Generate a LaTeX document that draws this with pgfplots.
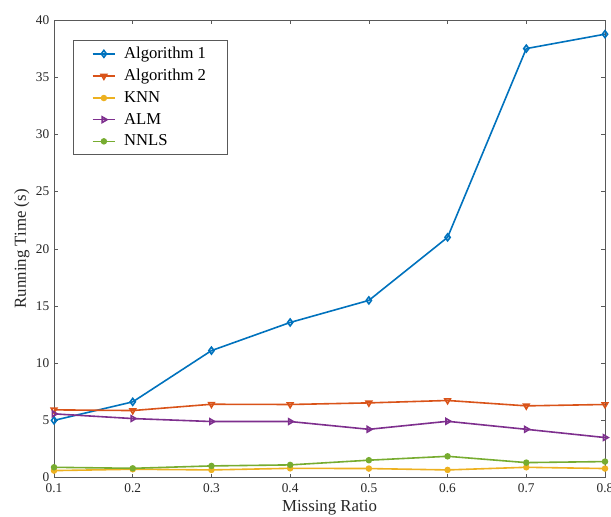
\documentclass[border=0pt]{standalone}
\usepackage{fontspec}
\setmainfont{Liberation Serif}
\usepackage{pgfplots}
\pgfplotsset{compat=1.18}
\usetikzlibrary{calc}
\definecolor{mblue}{RGB}{0,114,189}
\definecolor{morange}{RGB}{217,83,25}
\definecolor{myellow}{RGB}{237,177,32}
\definecolor{mpurple}{RGB}{126,47,142}
\definecolor{mgreen}{RGB}{119,172,48}
\definecolor{axgray}{RGB}{38,38,38}

\begin{document}
\begin{tikzpicture}
\begin{axis}[
  scale only axis, width=413pt, height=343pt,
  xmin=0.1, xmax=0.8, ymin=0, ymax=40,
  xtick={0.1,0.2,...,0.8}, ytick={0,5,...,40},
  xticklabels={0.1,0.2,0.3,0.4,0.5,0.6,0.7,0.8},
  /pgf/number format/assume math mode=true,
  tick label style={font=\fontsize{10}{12}\selectfont, text=axgray},
  xticklabel style={yshift=-1pt},
  axis line style={draw=gray!70!black, line width=0.4pt},
  tick style={draw=gray!70!black, line width=0.4pt},
  major tick length=3pt, tick align=inside,
  xlabel={Missing Ratio}, ylabel={Running Time (s)},
  label style={font=\fontsize{12.6}{14}\selectfont, text=axgray},
  xlabel style={yshift=1pt},
  ylabel style={yshift=-2pt},
  legend style={at={(0.034,0.956)}, anchor=north west, draw=gray!70!black,
    font=\fontsize{12.5}{14}\selectfont, row sep=2.5pt, column sep=4pt,
    inner xsep=14pt, inner ysep=3pt},
  legend cell align=left,
  every axis plot/.append style={line width=1.2pt},
]
\addplot[color=mblue, mark=diamond, mark size=2.6pt, mark options={solid}] coordinates {
  (0.1,5.0) (0.2,6.62) (0.3,11.1) (0.4,13.56) (0.5,15.49) (0.6,21.0) (0.7,37.5) (0.8,38.76)};
\addlegendentry{Algorithm 1}
\addplot[color=morange, mark=triangle, mark size=2.4pt, mark options={rotate=180}] coordinates {
  (0.1,5.92) (0.2,5.86) (0.3,6.41) (0.4,6.39) (0.5,6.53) (0.6,6.74) (0.7,6.27) (0.8,6.39)};
\addlegendentry{Algorithm 2}
\addplot[color=myellow, mark=*, mark size=1.8pt] coordinates {
  (0.1,0.61) (0.2,0.73) (0.3,0.67) (0.4,0.81) (0.5,0.79) (0.6,0.67) (0.7,0.9) (0.8,0.79)};
\addlegendentry{KNN}
\addplot[color=mpurple, mark=triangle, mark size=2.4pt, mark options={rotate=-90}] coordinates {
  (0.1,5.57) (0.2,5.16) (0.3,4.9) (0.4,4.9) (0.5,4.22) (0.6,4.92) (0.7,4.22) (0.8,3.5)};
\addlegendentry{ALM}
\addplot[color=mgreen, mark=*, mark size=1.8pt] coordinates {
  (0.1,0.9) (0.2,0.81) (0.3,1.02) (0.4,1.11) (0.5,1.52) (0.6,1.86) (0.7,1.31) (0.8,1.4)};
\addlegendentry{NNLS}
\end{axis}
\pgfresetboundingbox
\path ($(current axis.south west)+(-40.5pt,-29pt)$) rectangle ($(current axis.north east)+(4.5pt,15pt)$);
\end{tikzpicture}
\end{document}
